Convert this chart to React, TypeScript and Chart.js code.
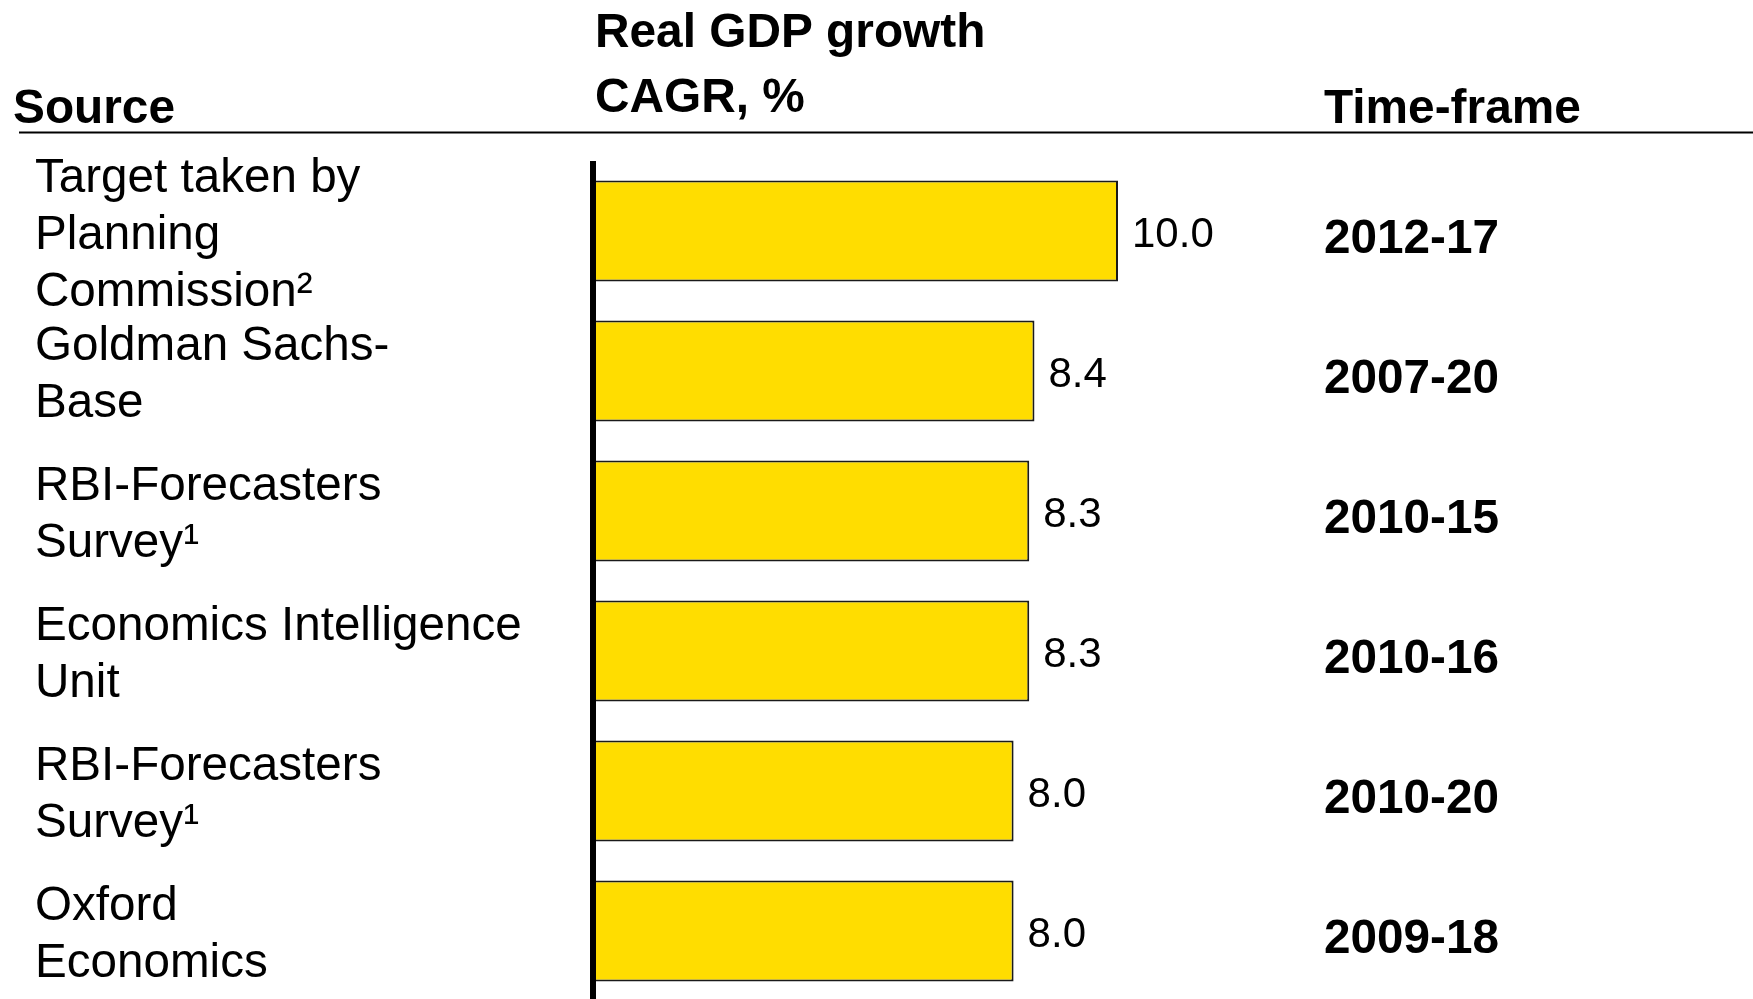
import React, { useEffect, useRef } from "react";
import { Chart, registerables } from "chart.js";

Chart.register(...registerables);

// ---- data ----
const sources: string[][] = [
  ["Target taken by", "Planning", "Commission\u00B2"],
  ["Goldman Sachs-", "Base"],
  ["RBI-Forecasters", "Survey\u00B9"],
  ["Economics Intelligence", "Unit"],
  ["RBI-Forecasters", "Survey\u00B9"],
  ["Oxford", "Economics"],
];
const growth: number[] = [10.0, 8.4, 8.3, 8.3, 8.0, 8.0];
const timeFrames: string[] = ["2012-17", "2007-20", "2010-15", "2010-16", "2010-20", "2009-18"];
const metricHeader: string[] = ["Real GDP growth", "CAGR, %"];
const sourceHeader = "Source";
const timeHeader = "Time-frame";

const FONT = "'Liberation Sans', Arial, Helvetica, sans-serif";
const W = 1753;
const H = 1002;

export default function App() {
  const ref = useRef<HTMLCanvasElement>(null);

  useEffect(() => {
    document.body.style.margin = "0";
    document.body.style.overflow = "hidden";
    const canvas = ref.current;
    if (!canvas) return;

    const decor = {
      id: "decor",
      afterDraw(chart: any) {
        const ctx = chart.ctx as CanvasRenderingContext2D;
        const area = chart.chartArea;
        const yScale = chart.scales.y;
        ctx.save();
        ctx.fillStyle = "#000";
        ctx.strokeStyle = "#000";
        ctx.textAlign = "left";
        ctx.textBaseline = "alphabetic";
        // headers
        ctx.font = `bold 47.8px ${FONT}`;
        ctx.fillText(metricHeader[0], area.left - 1, 47);
        ctx.fillText(metricHeader[1], area.left - 1, 112);
        ctx.fillText(sourceHeader, 13, 123);
        ctx.fillText(timeHeader, 1324, 123);
        // header rule
        ctx.lineWidth = 2;
        ctx.beginPath();
        ctx.moveTo(19, 132.5);
        ctx.lineTo(chart.width, 132.5);
        ctx.stroke();
        // value axis baseline
        ctx.lineWidth = 6;
        ctx.beginPath();
        ctx.moveTo(area.left - 3, area.top);
        ctx.lineTo(area.left - 3, chart.height);
        ctx.stroke();
        // value labels
        ctx.font = `42px ${FONT}`;
        ctx.textBaseline = "middle";
        const meta = chart.getDatasetMeta(0);
        meta.data.forEach((bar: any, i: number) => {
          ctx.fillText(growth[i].toFixed(1), bar.x + 14, bar.y + 4);
        });
        // time frames
        ctx.font = `bold 47.7px ${FONT}`;
        timeFrames.forEach((t, i) => {
          ctx.fillText(t, 1324, yScale.getPixelForValue(i) + 8.5);
        });
        ctx.restore();
      },
    };

    const chart = new Chart(canvas, {
      type: "bar",
      data: {
        labels: sources,
        datasets: [
          {
            data: growth,
            backgroundColor: "#FFDD00",
            borderColor: "#1a1a1a",
            borderWidth: 2,
            borderSkipped: "start",
            barPercentage: 0.72,
            categoryPercentage: 1,
          },
        ],
      },
      options: {
        indexAxis: "y",
        responsive: false,
        animation: false,
        devicePixelRatio: 1,
        layout: {
          padding: { left: 35, top: 161, bottom: 1, right: W - 596 - 22 * 52.2 },
        },
        plugins: {
          legend: { display: false },
          tooltip: { enabled: false },
          title: { display: false },
        },
        scales: {
          x: {
            display: false,
            min: 0,
            max: 22,
          },
          y: {
            afterFit: (scale: any) => {
              scale.width = 561;
              scale.paddingTop = 0;
              scale.paddingBottom = 0;
            },
            grid: { display: false, drawTicks: false },
            border: { display: false },
            ticks: {
              autoSkip: false,
              crossAlign: "far",
              labelOffset: 4.5,
              color: "#000",
              padding: 0,
              font: { family: FONT, size: 47.6, lineHeight: 1.2 },
            },
          },
        },
      },
      plugins: [decor],
    });

    return () => chart.destroy();
  }, []);

  return (
    <div style={{ width: W, height: 999, overflow: "hidden", background: "#fff", position: "relative" }}>
      <canvas ref={ref} width={W} height={H} style={{ display: "block", width: W, height: H }} />
    </div>
  );
}
